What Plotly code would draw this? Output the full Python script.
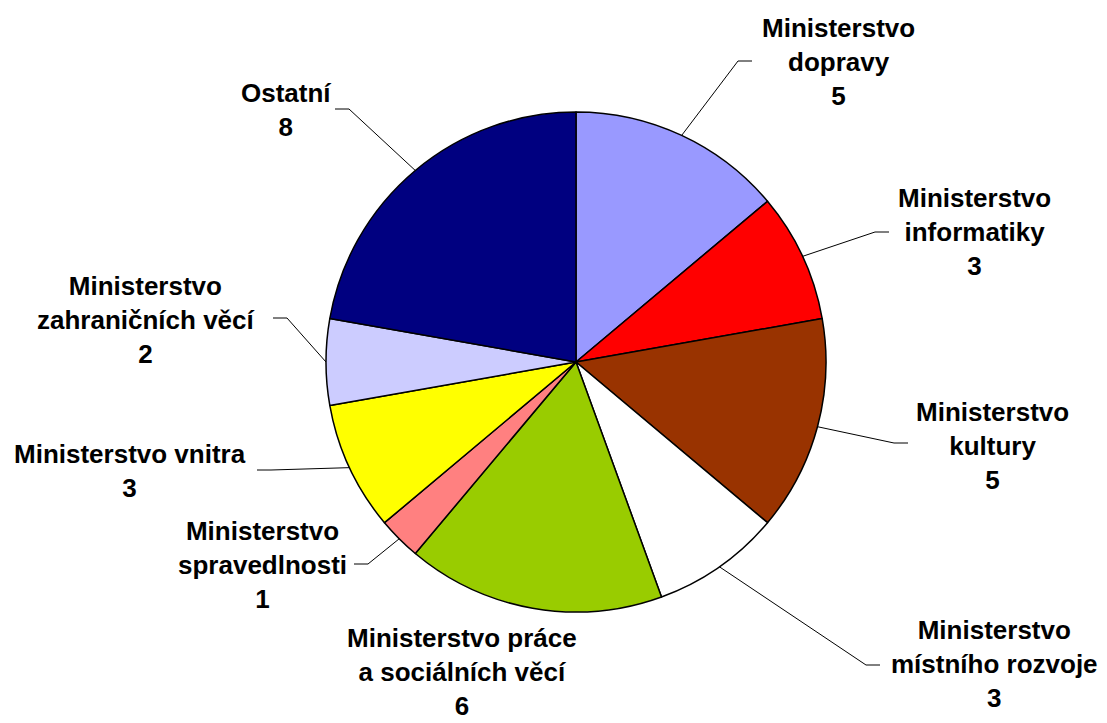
import math
import plotly.graph_objects as go

W, H = 1107, 723
OFF = 8  # page body margin
FW, FH = W - OFF, H - OFF

labels = ["Ministerstvo<br>dopravy", "Ministerstvo<br>informatiky", "Ministerstvo<br>kultury",
          "Ministerstvo<br>místního rozvoje", "Ministerstvo práce<br>a sociálních věcí",
          "Ministerstvo<br>spravedlnosti", "Ministerstvo vnitra", "Ministerstvo<br>zahraničních věcí",
          "Ostatní"]
values = [5, 3, 5, 3, 6, 1, 3, 2, 8]
colors = ["#9999FF", "#FF0000", "#993300", "#FFFFFF", "#99CC00",
          "#FF8080", "#FFFF00", "#CCCCFF", "#000080"]

# pie geometry in screen pixels
CX, CY, R = 576, 362, 250

# label centres (px) and leader end (px, None = no leader)
label_pos = [(838, 62), (974, 232), (992, 446), (994, 664), (462, 672),
             (262, 565), (130, 471), (146, 320), (286, 110)]
leader_end = [(752, 61), (889, 232), (908, 443), (880, 665), None,
              (354, 564), (257, 470), (273, 318), (335, 109)]
leader_dir = [1, 1, 1, 1, 0, -1, -1, -1, -1]


def px(x, y):
    return (x - OFF) / FW, 1 - (y - OFF) / FH


fig = go.Figure(go.Pie(
    labels=labels, values=values, sort=False, direction="clockwise",
    marker=dict(colors=colors, line=dict(color="black", width=1.5)),
    textinfo="none", hoverinfo="label+value", showlegend=False,
    domain=dict(x=[px(CX - R, 0)[0], px(CX + R, 0)[0]],
                y=[px(0, CY + R)[1], px(0, CY - R)[1]]),
))

total = sum(values)
cum = 0
shapes = []
annotations = []
for lab, v, pos, end, d in zip(labels, values, label_pos, leader_end, leader_dir):
    mid = (cum + v / 2) / total * 2 * math.pi
    cum += v
    ex, ey = CX + R * math.sin(mid), CY - R * math.cos(mid)
    if end is not None:
        elbow = (end[0] - 14 * d, end[1])
        x0, y0 = px(ex, ey)
        x1, y1 = px(*elbow)
        x2, y2 = px(*end)
        shapes.append(dict(type="path", xref="paper", yref="paper",
                           path=f"M{x0},{y0} L{x1},{y1} L{x2},{y2}",
                           line=dict(color="black", width=1)))
    ax, ay = px(*pos)
    annotations.append(dict(x=ax, y=ay, xref="paper", yref="paper", showarrow=False,
                            xanchor="center", yanchor="middle", align="center",
                            text=f"{lab}<br>{v}",
                            font=dict(family="Arial, Liberation Sans", size=26,
                                      color="black", weight="bold")))

fig.update_layout(width=FW, height=FH, margin=dict(l=0, r=0, t=0, b=0),
                  paper_bgcolor="white", plot_bgcolor="white",
                  shapes=shapes, annotations=annotations)

fig.write_html("out.html")
